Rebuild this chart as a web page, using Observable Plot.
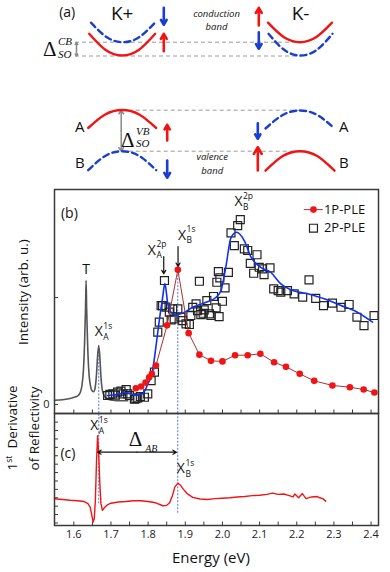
<!DOCTYPE html>
<html><head><meta charset="utf-8">
<script src="https://cdn.jsdelivr.net/npm/d3@7"></script>
<script src="https://cdn.jsdelivr.net/npm/@observablehq/plot@0.6"></script>
<style>
html,body{margin:0;padding:0;background:#fff;}
#wrap{position:relative;width:390px;height:572px;overflow:hidden;font-family:"Open Sans",sans-serif;}
#wrap svg{position:absolute;left:0;}
</style></head><body><div id="wrap"></div>
<script>
// ---------------- DATA ----------------
// Panel (b): PL spectrum (gray)
const plE = [1.548,1.57,1.593,1.605,1.612,1.618,1.622,1.626,1.629,1.6315,1.633,1.6345,1.637,1.640,1.644,1.648,1.653,1.657,1.661,1.664,1.667,1.670,1.673,1.677,1.683,1.692,1.705,1.725,1.745];
const plI = [0.04,0.045,0.059,0.072,0.085,0.12,0.18,0.33,0.58,0.90,1.16,0.90,0.58,0.33,0.19,0.135,0.12,0.15,0.28,0.45,0.55,0.45,0.26,0.13,0.075,0.05,0.04,0.035,0.035];
// 1P-PLE
const p1E = [1.767,1.781,1.793,1.803,1.810,1.821,1.851,1.880,1.909,1.938,1.969,2.000,2.034,2.068,2.102,2.139,2.171,2.208,2.247,2.296,2.343,2.380,2.409];
const p1I = [0.152,0.168,0.205,0.255,0.287,0.364,0.740,1.259,0.667,0.466,0.408,0.403,0.461,0.461,0.474,0.395,0.352,0.287,0.221,0.178,0.162,0.140,0.112];
// 2P-PLE
const p2E = [1.691,1.697,1.705,1.712,1.718,1.727,1.732,1.741,1.745,1.750,1.763,1.767,1.772,1.779,1.790,1.799,1.808,1.817,1.826,1.830,1.835,1.839,1.844,1.848,1.857,1.862,1.866,1.870,1.880,1.888,1.893,1.902,1.911,1.915,1.920,1.929,1.933,1.938,1.942,1.948,1.951,1.958,1.965,1.969,1.976,1.983,1.985,1.989,1.991,1.993,2.000,2.007,2.016,2.023,2.032,2.041,2.048,2.059,2.068,2.075,2.084,2.093,2.099,2.108,2.112,2.128,2.138,2.150,2.157,2.175,2.193,2.216,2.233,2.251,2.272,2.296,2.319,2.341,2.362,2.381,2.408];
const p2I = [0.084,0.095,0.100,0.088,0.115,0.125,0.100,0.140,0.100,0.084,0.050,0.055,0.062,0.075,0.068,0.100,0.224,0.302,0.676,0.770,0.925,0.925,1.159,0.910,0.863,0.791,0.894,0.800,0.894,0.816,0.785,0.754,0.748,0.832,0.909,0.941,0.878,1.152,0.841,0.853,0.885,0.972,0.847,0.832,1.010,0.904,1.143,1.243,0.822,1.184,0.965,1.090,1.236,1.605,1.486,1.673,1.729,1.455,1.440,1.320,1.227,1.400,1.283,1.268,1.215,1.277,1.081,1.065,1.050,1.065,1.035,1.003,1.165,0.993,0.925,0.947,0.909,0.935,0.816,0.738,0.832];
// 2P fit (blue)
const fitE = [1.691,1.714,1.741,1.767,1.785,1.799,1.812,1.821,1.830,1.839,1.845,1.853,1.862,1.875,1.893,1.920,1.956,1.983,1.996,2.009,2.023,2.038,2.059,2.077,2.103,2.130,2.157,2.184,2.229,2.274,2.319,2.363,2.404];
const fitI = [0.084,0.093,0.110,0.088,0.100,0.190,0.320,0.540,0.785,1.000,1.130,0.940,0.863,0.840,0.853,0.909,0.956,1.003,1.065,1.283,1.560,1.610,1.530,1.377,1.283,1.236,1.128,1.072,1.035,0.988,0.925,0.863,0.770];
// Panel (c): 1st derivative of reflectivity
const drE = [1.548,1.570,1.590,1.610,1.628,1.638,1.644,1.648,1.652,1.655,1.658,1.661,1.664,1.667,1.670,1.673,1.677,1.682,1.690,1.700,1.720,1.740,1.760,1.780,1.800,1.820,1.840,1.850,1.858,1.865,1.872,1.880,1.887,1.895,1.905,1.920,1.940,1.960,1.980,2.000,2.020,2.040,2.060,2.080,2.100,2.120,2.135,2.150,2.165,2.180,2.190,2.195,2.205,2.215,2.225,2.240,2.255,2.262,2.270,2.278];
const drV = [3.18,3.10,3.00,2.95,2.85,2.60,2.20,1.30,0.40,0.80,3.00,7.50,10.70,8.50,5.00,2.60,1.80,2.10,2.45,2.65,2.80,2.85,2.95,2.95,2.85,2.70,2.35,2.40,2.70,3.50,4.60,5.05,4.80,4.30,3.80,3.35,3.15,3.10,3.20,3.25,3.30,3.40,3.45,3.55,3.60,3.70,3.85,3.70,3.75,3.55,3.40,3.75,3.30,3.80,3.20,3.40,3.45,3.30,3.20,2.90];
// ticks
const xMajor = [1.6,1.7,1.8,1.9,2.0,2.1,2.2,2.3,2.4];
const xMinor = [1.6,1.65,1.7,1.75,1.8,1.85,1.9,1.95,2.0,2.05,2.1,2.15,2.2,2.25,2.3,2.35,2.4];
const bYTicks = [0,1];
const cYTicks = [0.3,1.3,2.3,3.3,4.3,5.3,6.3,7.3,8.3,9.3,10.3,11.3,12.3];
// exciton energies (dotted markers)
const eA1s = 1.667, eB1s = 1.8796;

// Panel (a) schematic (diagram units)
const bandK = [-1,-0.5,0,0.5,1];
const bandShape = [1,0.25,0,0.25,1];
const bands = [
  {cx:122.5, apex:41.7, hw:32, rise:-19.5, c:"b"},
  {cx:121.7, apex:55.0, hw:33, rise:-21.7, c:"r"},
  {cx:299.5, apex:41.7, hw:32, rise:-19.5, c:"r"},
  {cx:300.0, apex:55.0, hw:32, rise:-21.7, c:"b"},
  {cx:121.7, apex:109.5, hw:34, rise:18.0, c:"r"},
  {cx:121.7, apex:150.7, hw:34, rise:19.0, c:"b"},
  {cx:299.5, apex:110.0, hw:34.5, rise:18.0, c:"b"},
  {cx:299.5, apex:150.7, hw:34.5, rise:19.5, c:"r"}
];
const spins = [
  {x:163.3,y1:7.3,y2:24.3,c:"b"},{x:163.3,y1:50.7,y2:33.3,c:"r"},
  {x:258.3,y1:25,y2:7.3,c:"r"},{x:258.3,y1:31.7,y2:48.3,c:"b"},
  {x:166.7,y1:140,y2:124.3,c:"r"},{x:166.7,y1:160,y2:177.3,c:"b"},
  {x:257.3,y1:122.7,y2:138.3,c:"b"},{x:257.3,y1:170,y2:146.7,c:"r"}
];
const levels = [
  {y:41.7,x1:75,x2:300},{y:55.5,x1:75,x2:300},
  {y:109.7,x1:121.7,x2:300},{y:150.7,x1:121.7,x2:300}
];
const gaps = [{x:76,y1:42,y2:55.5},{x:120.7,y1:110,y2:150.5}];

// ---------------- COLORS / HELPERS ----------------
const RED="#f01414", BLUE="#1a3fd0", FITBLUE="#1030f0", DKRED="#a83232", DOT="#6f8fe6", FR="#3a3a3a";
const col = c => c==="r" ? RED : BLUE;
const FONT = "Open Sans";
const SERIF = "Liberation Serif";

function rich(xv, yv, main, sup, sub, o={}) {
  const fm = o.fm ?? 14, fs = o.fs ?? 8.5, fam = o.fam ?? FONT, st = o.st ?? "normal", gap = o.gap ?? 0.5;
  const m = [Plot.text([0], {x:()=>xv, y:()=>yv, text:()=>main, textAnchor:"end", fontSize:fm, fontFamily:fam, fill:"#111"})];
  if (sup) m.push(Plot.text([0], {x:()=>xv, y:()=>yv, text:()=>sup, textAnchor:"start", fontSize:fs, fontFamily:fam, fontStyle:st, dx:gap, dy:o.supDy ?? -5.5, fill:"#111"}));
  if (sub) m.push(Plot.text([0], {x:()=>xv, y:()=>yv, text:()=>sub, textAnchor:"start", fontSize:fs, fontFamily:fam, fontStyle:st, dx:gap, dy:o.subDy ?? 5.5, fill:"#111"}));
  return m;
}
function txt(xv, yv, s, o={}) {
  return Plot.text([0], {x:()=>xv, y:()=>yv, text:()=>s, fontSize:o.fs ?? 14, fontFamily:o.fam ?? FONT, fontStyle:o.st ?? "normal", textAnchor:o.anchor ?? "middle", fill:o.fill ?? "#111"});
}
const baseStyle = {fontFamily:FONT, fontSize:"10px", background:"transparent", overflow:"visible", color:"#222"};
const wrap = document.getElementById("wrap");
function place(svg, top){ svg.style.top = top+"px"; wrap.appendChild(svg); }

// ---------------- PANEL (a) ----------------
const bandPts = bands.flatMap((b,i)=>bandK.map((k,j)=>({i, x:b.cx+k*b.hw, y:b.apex+bandShape[j]*b.rise, c:b.c})));
const gapArrows = gaps.flatMap(g=>{const m=(g.y1+g.y2)/2; return [{x:g.x,a:m,b:g.y1},{x:g.x,a:m,b:g.y2}];});
const plotA = Plot.plot({
  width:390, height:185, margin:0,
  x:{domain:[0,390], axis:null}, y:{domain:[185,0], axis:null},
  style: baseStyle,
  marks:[
    Plot.ruleY(levels, {y:"y", x1:"x1", x2:"x2", stroke:"#9a9a9a", strokeWidth:1, strokeDasharray:"4,3"}),
    Plot.arrow(gapArrows, {x1:"x", x2:"x", y1:"a", y2:"b", stroke:"#8a8a8a", strokeWidth:1.5, headLength:4, headAngle:70}),
    Plot.line(bandPts.filter(d=>d.c==="r"), {x:"x", y:"y", z:"i", stroke:RED, strokeWidth:2.4, curve:"natural"}),
    Plot.line(bandPts.filter(d=>d.c==="b"), {x:"x", y:"y", z:"i", stroke:BLUE, strokeWidth:2.4, curve:"natural", strokeDasharray:"6,4"}),
    Plot.arrow(spins, {x1:"x", x2:"x", y1:"y1", y2:"y2", stroke:d=>col(d.c), strokeWidth:2.6, headLength:6, headAngle:60}),
    txt(66.7, 12, "(a)", {fs:14}),
    txt(121.7, 13.5, "K+", {fs:19}),
    txt(300, 13.5, "K-", {fs:19}),
    txt(216, 13.3, "conduction", {fs:9.5, st:"italic"}),
    txt(216, 26, "band", {fs:9.5, st:"italic"}),
    txt(211.7, 156.7, "valence", {fs:9.5, st:"italic"}),
    txt(211.7, 170, "band", {fs:9.5, st:"italic"}),
    txt(79.3, 127, "A", {fs:15}), txt(79.3, 163, "B", {fs:15}),
    txt(343.3, 127, "A", {fs:15}), txt(343.3, 163, "B", {fs:15}),
    ...rich(56, 48.5, "Δ", "CB", "SO", {fm:21, fs:11, fam:SERIF, st:"italic", gap:1.5, supDy:-7.8, subDy:5.5}),
    ...rich(134, 140, "Δ", "VB", "SO", {fm:21, fs:11, fam:SERIF, st:"italic", gap:1.5, supDy:-9.5, subDy:3})
  ]
});
place(plotA, 0);

// ---------------- PANEL (b) ----------------
const pl = plE.map((e,i)=>({e, v:plI[i]}));
const p1 = p1E.map((e,i)=>({e, v:p1I[i]}));
const p2 = p2E.map((e,i)=>({e, v:p2I[i]}));
const fit = fitE.map((e,i)=>({e, v:fitI[i]}));
const bFrameH = 224, bFrameW = 324;
const plotB = Plot.plot({
  width:390, height:240, marginTop:9, marginBottom:7, marginLeft:54, marginRight:12,
  x:{domain:[1.548,2.42], axis:null},
  y:{domain:[-0.084,2.01]},
  style: baseStyle,
  marks:[
    Plot.ruleX(xMinor, {x:d=>d, insetTop:bFrameH-3.5, stroke:FR}),
    Plot.ruleY(bYTicks, {y:d=>d, insetRight:bFrameW-4, stroke:FR}),
    Plot.axisY({ticks:[0], tickSize:0, tickPadding:5, label:null, fontSize:11, tickFormat:d=>String(d)}),
    Plot.text([0], {x:()=>1.548, y:()=>1.05, text:()=>"Intensity (arb. u.)", rotate:-90, dx:-31, fontSize:13.5, fontFamily:FONT, fill:"#111"}),
    Plot.ruleX([{e:eA1s, t:0.55},{e:eB1s, t:1.259}], {x:"e", y1:-0.084, y2:"t", stroke:DOT, strokeWidth:1.2, strokeDasharray:"2,1.5"}),
    Plot.line(pl, {x:"e", y:"v", stroke:"#555", strokeWidth:1.6, curve:"monotone-x"}),
    Plot.dot(p2, {x:"e", y:"v", symbol:"square", r:4.5, stroke:"#222", strokeWidth:1.2, fill:"none"}),
    Plot.line(fit, {x:"e", y:"v", stroke:FITBLUE, strokeWidth:1.6, curve:"monotone-x"}),
    Plot.line(p1, {x:"e", y:"v", stroke:DKRED, strokeWidth:1}),
    Plot.dot(p1, {x:"e", y:"v", r:3.3, fill:RED, stroke:"none"}),
    // annotations
    Plot.arrow([{e:1.842, a:1.383, b:1.222},{e:1.8805, a:1.477, b:1.29}], {x1:"e", x2:"e", y1:"a", y2:"b", stroke:"#111", strokeWidth:1.2, headLength:5}),
    txt(1.588, 1.785, "(b)", {fs:14}),
    txt(1.633, 1.262, "T", {fs:14}),
    ...rich(1.821, 1.444, "X", "2p", "A"),
    ...rich(1.902, 1.584, "X", "1s", "B"),
    ...rich(2.054, 1.894, "X", "2p", "B"),
    ...rich(1.678, 0.684, "X", "1s", "A"),
    // legend
    Plot.line([{e:2.220,v:1.822},{e:2.269,v:1.822}], {x:"e", y:"v", stroke:DKRED, strokeWidth:1}),
    Plot.dot([{e:2.245,v:1.822}], {x:"e", y:"v", r:3.3, fill:RED}),
    Plot.dot([{e:2.245,v:1.648}], {x:"e", y:"v", symbol:"square", r:4.5, stroke:"#222", strokeWidth:1.2, fill:"none"}),
    txt(2.273, 1.822, "1P-PLE", {fs:13, anchor:"start"}),
    txt(2.273, 1.648, "2P-PLE", {fs:13, anchor:"start"}),
    Plot.frame({stroke:FR, strokeWidth:1.5})
  ]
});
place(plotB, 180);

// ---------------- PANEL (c) ----------------
const dr = drE.map((e,i)=>({e, v:drV[i]}));
const cFrameH = 112, cFrameW = 324;
const plotC = Plot.plot({
  width:390, height:167, marginTop:8, marginBottom:47, marginLeft:54, marginRight:12,
  x:{domain:[1.548,2.42]},
  y:{domain:[0,13.33], axis:null},
  style: baseStyle,
  marks:[
    Plot.ruleX(xMinor, {x:d=>d, insetTop:cFrameH-3.5, stroke:FR}),
    Plot.ruleY(cYTicks, {y:d=>d, insetRight:cFrameW-4, stroke:FR}),
    Plot.axisX({ticks:xMajor, tickSize:0, tickPadding:5, label:null, fontSize:11, tickFormat:d=>d.toFixed(1)}),
    Plot.text([0], {x:()=>1.969, frameAnchor:"bottom", text:()=>"Energy (eV)", dy:37, fontSize:15, fontFamily:FONT, fill:"#111"}),
    Plot.text([0], {y:()=>6.55, frameAnchor:"left", text:()=>"1st Derivative", rotate:-90, dx:-42, fontSize:13.5, fontFamily:FONT, fill:"#111"}),
    Plot.text([0], {y:()=>6.55, frameAnchor:"left", text:()=>"of Reflectivity", rotate:-90, dx:-20, fontSize:13.5, fontFamily:FONT, fill:"#111"}),
    Plot.ruleX([{e:eA1s, t:2.6},{e:eB1s, t:1.46}], {x:"e", y1:"t", y2:13.33, stroke:DOT, strokeWidth:1.2, strokeDasharray:"2,1.5"}),
    Plot.line(dr, {x:"e", y:"v", stroke:RED, strokeWidth:1.4}),
    Plot.arrow([{a:1.77,b:1.664},{a:1.77,b:1.876}], {x1:"a", x2:"b", y1:8.73, y2:8.73, stroke:"#111", strokeWidth:1.2, headLength:5}),
    ...rich(1.784, 10.3, "Δ", null, "AB", {fm:21, fs:10, fam:SERIF, st:"italic", gap:3, subDy:10}),
    txt(1.584, 8.57, "(c)", {fs:14}),
    ...rich(1.666, 11.9, "X", "1s", "A"),
    ...rich(1.899, 6.75, "X", "1s", "B"),
    Plot.frame({stroke:FR, strokeWidth:1.5})
  ]
});
place(plotC, 405);

// superscript "st" in the derivative label
plotC.querySelectorAll("text").forEach(t=>{
  if (t.textContent === "1st Derivative") {
    t.textContent = "";
    const ns = "http://www.w3.org/2000/svg";
    const a = document.createElementNS(ns,"tspan"); a.textContent = "1";
    const b = document.createElementNS(ns,"tspan"); b.textContent = "st"; b.setAttribute("font-size","8.5"); b.setAttribute("dy","-5");
    const c = document.createElementNS(ns,"tspan"); c.textContent = "  Derivative"; c.setAttribute("dy","5");
    t.append(a,b,c);
  }
});
</script></body></html>
